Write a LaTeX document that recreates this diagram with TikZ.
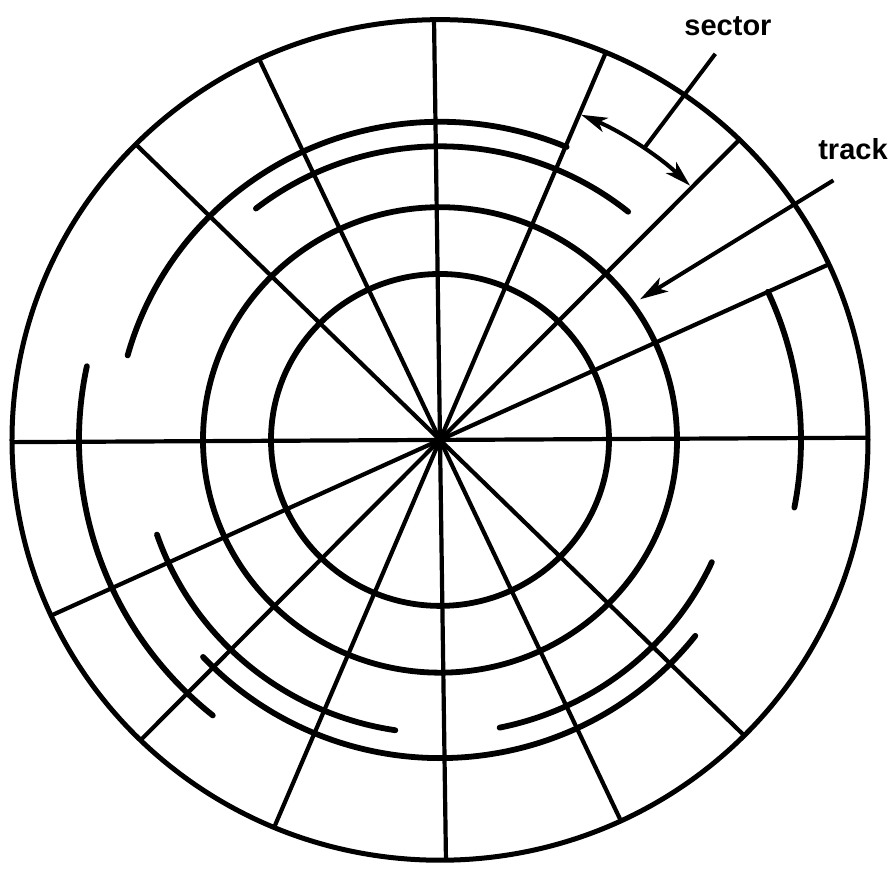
\documentclass[tikz,border=0pt]{standalone}
\usepackage{fontspec}
\setmainfont{Liberation Sans}
\usetikzlibrary{arrows.meta}
\tikzstyle{rim}=[line width=5pt]
\tikzstyle{spoke}=[line width=4.2pt]
\tikzstyle{ring}=[line width=5.8pt, line cap=round]
\tikzstyle{guide}=[line width=4pt]
\tikzstyle{pointer}=[line width=4pt, -{Stealth[length=28pt, width=16pt, inset=7pt]}]
\tikzstyle{caption}=[font=\fontsize{29}{34}\selectfont\bfseries, anchor=base, inner sep=0pt]

\begin{document}
\begin{tikzpicture}[x=1pt, y=1pt, yscale=0.982]
	\useasboundingbox (-440,-436) rectangle (452,448);

	% Disk edge and the two closed tracks
	\draw[rim] (0,0) circle (428);
	\foreach \r in {169, 237}{ \draw[ring] (0,0) circle (\r); }

	% Sector boundaries
	\foreach \a in {0.3, 24.7, 45.6, 67.2, 90.8, 115, 135.3}{
		\draw[spoke] (\a:428) -- (\a+180:428);
	}

	% Broken outer tracks
	\foreach \s/\e/\r in {51/128/299, 198.8/261.4/299, 281.5/335.4/299,
			67/164.6/324, 223/322/324, 168/231/361, 24.7/-11/361}{
		\draw[ring] (\s:\r) arc[start angle=\s, end angle=\e, radius=\r];
	}

	% Sector callout
	\node[caption] (sector) at (288,412) {sector};
	\coordinate (sectorFoot) at (55.5:360);
	\coordinate (sectorTop) at (55:480);
	\coordinate (sectorL) at (66.9:360);
	\draw[guide] (sectorFoot) -- (sectorTop);
	\draw[guide, {Stealth[length=26pt, width=15pt, inset=7pt]}-{Stealth[length=26pt, width=15pt, inset=7pt]}]
		(sectorL) arc[start angle=66.9, end angle=46, radius=360];

	% Track callout
	\node[caption] (track) at (413,286) {track};
	\coordinate (trackTail) at (33.9:474);
	\coordinate (trackTip) at (35.6:246);
	\draw[pointer] (trackTail) -- (trackTip);
\end{tikzpicture}
\end{document}
